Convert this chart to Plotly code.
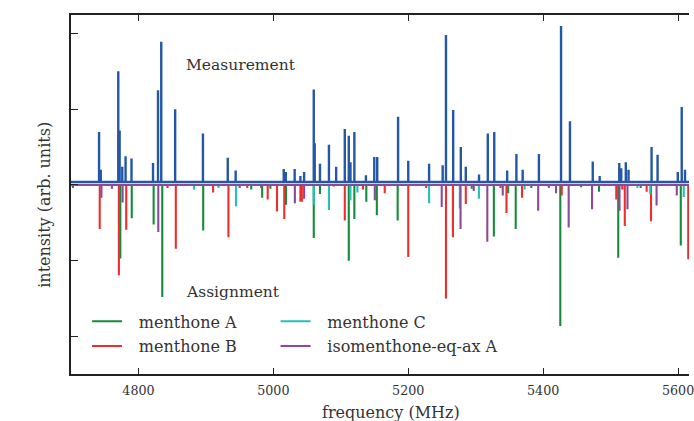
import plotly.graph_objects as go

# ---------------- data ----------------
meas_freq = [4741.6, 4744.1, 4770.1, 4772.1, 4776.0, 4780.9, 4789.7, 4821.6, 4829.0, 4833.8,
             4854.4, 4895.6, 4932.4, 4944.1, 5015.4, 5018.4, 5031.6, 5040.1, 5045.6, 5059.9,
             5061.3, 5069.1, 5082.4, 5093.1, 5105.9, 5111.8, 5114.3, 5120.1, 5137.2, 5149.6,
             5154.0, 5184.9, 5200.0, 5230.9, 5251.0, 5255.9, 5266.6, 5277.9, 5285.3, 5304.9,
             5317.9, 5327.5, 5346.6, 5360.3, 5369.6, 5393.7, 5426.5, 5439.7, 5473.5, 5483.8,
             5512.8, 5515.7, 5522.5, 5526.5, 5560.7, 5569.6, 5599.6, 5605.4, 5610.3]
meas_int = [0.70, 0.20, 1.50, 0.72, 0.24, 0.38, 0.35, 0.29, 1.25, 1.89,
            1.00, 0.68, 0.36, 0.19, 0.21, 0.17, 0.21, 0.12, 0.17, 1.26,
            0.55, 0.28, 0.53, 0.24, 0.74, 0.65, 0.30, 0.70, 0.13, 0.37,
            0.37, 0.90, 0.32, 0.28, 0.26, 1.98, 0.99, 0.50, 0.24, 0.14,
            0.68, 0.70, 0.19, 0.41, 0.20, 0.41, 2.10, 0.84, 0.31, 0.12,
            0.29, 0.22, 0.30, 0.20, 0.50, 0.40, 0.17, 1.03, 0.20]
meas_baseline = 0.04

mA_freq = [4773.1, 4790.1, 4822.5, 4835.3, 4896.0, 4967.2, 4983.4, 4995.6, 5018.8, 5059.9,
           5069.1, 5111.8, 5120.1, 5137.8, 5153.4, 5184.3, 5294.1, 5326.9, 5348.1, 5359.3,
           5382.4, 5425.4, 5456.3, 5482.8, 5511.3, 5544.6, 5604.0]
mA_int = [-0.97, -0.44, -0.52, -1.48, -0.60, -0.06, -0.17, -0.05, -0.26, -0.70,
          -0.12, -1.00, -0.45, -0.22, -0.40, -0.47, -0.05, -0.68, -0.11, -0.58,
          -0.04, -1.86, -0.03, -0.09, -0.96, -0.04, -0.80]

mB_freq = [4742.6, 4771.0, 4781.9, 4843.1, 4855.4, 4910.7, 4933.4, 4961.3, 4991.6, 5005.4,
           5016.2, 5040.1, 5042.2, 5089.7, 5105.9, 5132.8, 5165.1, 5200.0, 5226.5, 5255.9,
           5266.2, 5285.3, 5336.8, 5345.6, 5368.7, 5427.5, 5508.4, 5517.2, 5521.0, 5553.4,
           5559.9, 5615.1]
mB_int = [-0.58, -1.19, -0.59, -0.04, -0.84, -0.10, -0.69, -0.04, -0.19, -0.35,
          -0.45, -0.22, -0.22, -0.02, -0.47, -0.06, -0.11, -0.95, -0.04, -1.50,
          -0.69, -0.25, -0.04, -0.37, -0.17, -0.14, -0.19, -0.06, -0.54, -0.09,
          -0.48, -0.98]

mC_freq = [4882.4, 4918.7, 4944.6, 5059.9, 5082.4, 5114.3, 5124.6, 5230.9, 5276.5, 5304.7,
           5372.5, 5539.7, 5558.8, 5608.4]
mC_int = [-0.06, -0.04, -0.28, -0.26, -0.33, -0.20, -0.10, -0.24, -0.31, -0.18,
          -0.06, -0.04, -0.12, -0.16]

iso_freq = [4702.9, 4745.1, 4760.7, 4776.5, 4829.4, 4950.0, 4981.9, 5031.9, 5045.6, 5150.4,
            5249.6, 5277.5, 5297.1, 5317.2, 5340.1, 5392.6, 5408.4, 5419.1, 5437.8, 5472.5,
            5513.2, 5525.0, 5568.1, 5598.1]
iso_int = [-0.04, -0.17, -0.05, -0.23, -0.62, -0.04, -0.04, -0.24, -0.18, -0.20,
           -0.29, -0.58, -0.08, -0.75, -0.14, -0.34, -0.04, -0.11, -0.56, -0.32,
           -0.34, -0.32, -0.27, -0.14]

x_range = [4700, 5616.2]
y_range = [-2.495, 2.244]
x_ticks = [4800, 5000, 5200, 5400, 5600]
y_ticks = [-2, -1, 0, 1, 2]

species = [
    ("menthone A", mA_freq, mA_int, "#178a3c", "legend"),
    ("menthone B", mB_freq, mB_int, "#ee2d2d", "legend"),
    ("menthone C", mC_freq, mC_int, "#25bfb8", "legend2"),
    ("isomenthone-eq-ax A", iso_freq, iso_int, "#8a4a9a", "legend2"),
]

FONT = "DejaVu Serif"


def stick_xy(freqs, ints, base=0.0):
    xs, ys = [x_range[0]], [base]
    for f, h in sorted(zip(freqs, ints)):
        xs += [f, f, f]
        ys += [base, h, base]
    xs.append(x_range[1])
    ys.append(base)
    return xs, ys


fig = go.Figure()

mx, my = stick_xy(meas_freq, meas_int, meas_baseline)
fig.add_trace(go.Scatter(x=mx, y=my, mode="lines", line=dict(color="#2457a6", width=2.4),
                         showlegend=False, hoverinfo="skip"))

for name, fr, it, col, lg in species:
    sx, sy = stick_xy(fr, it)
    fig.add_trace(go.Scatter(x=sx, y=sy, mode="lines", name="  \u200a" + name,
                             line=dict(color=col, width=2.1),
                             legend=lg, legendgroup=name, hoverinfo="skip"))

fig.add_annotation(x=4870.6, y=1.58, xref="x", yref="y", text="Measurement", showarrow=False,
                   xanchor="left", yanchor="middle", xshift=-2,
                   font=dict(family=FONT, size=15.5, color="#333"))
fig.add_annotation(x=4870.6, y=-1.41, xref="x", yref="y", text="Assignment", showarrow=False,
                   xanchor="left", yanchor="middle", xshift=-2,
                   font=dict(family=FONT, size=15.5, color="#333"))

fig.add_annotation(x=0.517, y=-0.106, xref="paper", yref="paper", text="frequency (MHz)",
                   showarrow=False, xanchor="center", yanchor="middle",
                   font=dict(family=FONT, size=16, color="#333"))
fig.add_annotation(x=-0.0433, y=0.472, xref="paper", yref="paper", text="intensity (arb. units)",
                   showarrow=False, textangle=-90, xanchor="center", yanchor="middle",
                   font=dict(family=FONT, size=16, color="#333"))

legend_common = dict(font=dict(family=FONT, size=16, color="#333"), bgcolor="rgba(0,0,0,0)",
                     orientation="v", tracegroupgap=1, xanchor="left", yanchor="top",
                     itemclick=False, itemdoubleclick=False)

fig.update_layout(
    width=694, height=421,
    margin=dict(l=71, r=0, t=15, b=47),
    paper_bgcolor="white", plot_bgcolor="white",
    legend=dict(x=0.026, y=0.194, **legend_common),
    legend2=dict(x=0.331, y=0.194, **legend_common),
    xaxis=dict(range=x_range, tickvals=x_ticks, ticktext=[str(v) for v in x_ticks],
               showgrid=False, zeroline=False, showline=True, linecolor="#222", linewidth=2,
               mirror="ticks", ticks="inside", ticklen=6, tickwidth=1, tickcolor="#222",
               ticklabeloverflow="allow", ticklabelstandoff=4,
               tickfont=dict(family=FONT, size=12.7, color="#333")),
    yaxis=dict(range=y_range, tickvals=y_ticks, showticklabels=False,
               showgrid=False, zeroline=False, showline=True, linecolor="#222", linewidth=2,
               mirror=False, ticks="inside", ticklen=7, tickwidth=1, tickcolor="#222"),
)

fig.write_html("out.html", config={"displayModeBar": False},
               post_script="document.body.style.margin='0';document.body.style.overflow='hidden';")
